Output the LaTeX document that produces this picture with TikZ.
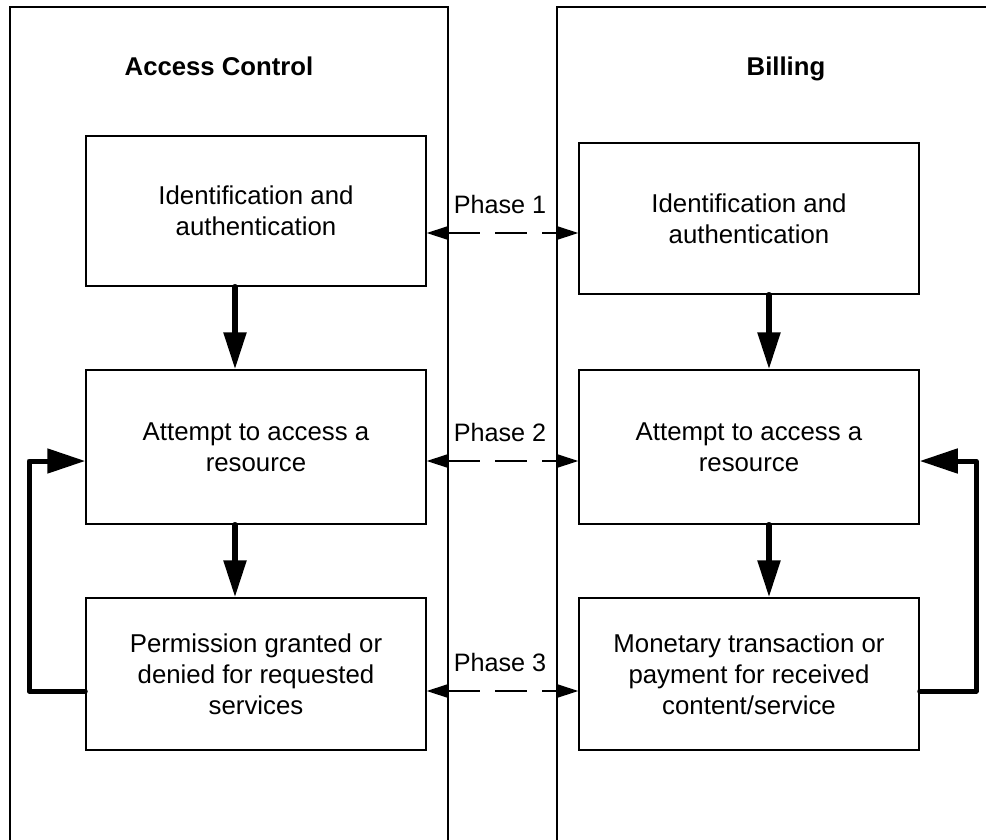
\documentclass[tikz,border=0pt]{standalone}
\usepackage{fontspec}
\setmainfont{Liberation Sans}
\usetikzlibrary{arrows.meta}

\tikzset{
  panel/.style={line width=1.4pt},
  stage/.style={draw, line width=1.5pt, minimum width=340pt, align=center,
    inner sep=0pt, font=\fontsize{25.8}{31.2}\selectfont},
  heading/.style={font=\fontsize{25.7}{30}\selectfont\bfseries, anchor=base},
  phaselabel/.style={font=\fontsize{25.2}{30}\selectfont, anchor=base},
  flow/.style={line width=5.5pt, line cap=round,
    -{Triangle[length=37pt,width=22pt]}},
  loopback/.style={line width=5pt, line cap=round, line join=round,
    -{Triangle[length=38pt,width=24pt]}},
  phase/.style={line width=1.3pt, dash pattern=on 32pt off 15pt,
    {Triangle[length=22pt,width=14pt]}-{Triangle[length=22pt,width=14pt]}}
}

\begin{document}
\begin{tikzpicture}[x=1pt,y=-1pt]
\useasboundingbox (0,0) rectangle (986,839);
\clip (0,0) rectangle (986,839);

% the two swim lanes
\draw[panel] (10,850) -- (10,7) -- (448,7) -- (448,850);
\draw[panel] (557,850) -- (557,7) -- (995,7) -- (995,850);
\node[heading] (tac) at (219,75) {Access Control};
\node[heading] (tbl) at (786,75) {Billing};

% access control steps
\node[stage, minimum height=150pt] (a1) at (256,211) {Identification and\\authentication};
\node[stage, minimum height=154pt] (a2) at (256,447) {Attempt to access a\\resource};
\node[stage, minimum height=152pt] (a3) at (256,674) {Permission granted or\\denied for requested\\services};

% billing steps
\node[stage, minimum height=151pt] (b1) at (749,218.5) {Identification and\\authentication};
\node[stage, minimum height=154pt] (b2) at (749,447) {Attempt to access a\\resource};
\node[stage, minimum height=152pt] (b3) at (749,674) {Monetary transaction or\\payment for received\\content/service};

% helper positions
\coordinate (lx) at (235,0);
\coordinate (rx) at (769,0);
\coordinate (p1) at (0,233);
\coordinate (p2) at (0,461);
\coordinate (p3) at (0,691);
\coordinate (ll) at (29,0);
\coordinate (rl) at (976,0);

% downward flow
\draw[flow] (a1.south -| lx) -- (a2.north -| lx);
\draw[flow] (a2.south -| lx) -- (a3.north -| lx);
\draw[flow] (b1.south -| rx) -- (b2.north -| rx);
\draw[flow] (b2.south -| rx) -- (b3.north -| rx);

% loops back to the access attempt
\draw[loopback] (a3.west |- p3) -- (ll |- p3) -- (ll |- p2) -- (a2.west |- p2);
\draw[loopback] (b3.east |- p3) -- (rl |- p3) -- (rl |- p2) -- (b2.east |- p2);

% phase links between the lanes
\draw[phase] (a1.east |- p1) -- (b1.west |- p1);
\draw[phase] (a2.east |- p2) -- (b2.west |- p2);
\draw[phase] (a3.east |- p3) -- (b3.west |- p3);
\node[phaselabel] (ph1) at (500,213) {Phase 1};
\node[phaselabel] (ph2) at (500,441) {Phase 2};
\node[phaselabel] (ph3) at (500,671) {Phase 3};
\end{tikzpicture}
\end{document}
